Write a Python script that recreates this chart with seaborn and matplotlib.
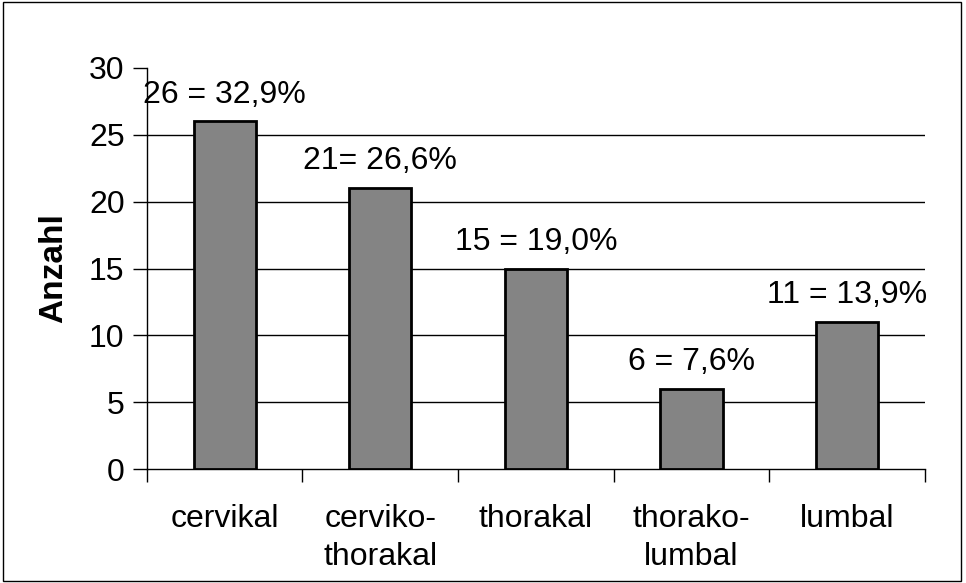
import matplotlib
matplotlib.use("Agg")
import matplotlib.pyplot as plt
import matplotlib.patches as mpatches
import seaborn as sns
import pandas as pd

categories = ["cervikal", "cerviko-\nthorakal", "thorakal", "thorako-\nlumbal", "lumbal"]
counts = [26, 21, 15, 6, 11]
labels = ["26 = 32,9%", "21= 26,6%", "15 = 19,0%", "6 = 7,6%", "11 = 13,9%"]
yticks = [0, 5, 10, 15, 20, 25, 30]

sns.set_theme(style="white")
plt.rcParams['font.family'] = ['Liberation Sans', 'DejaVu Sans']

df = pd.DataFrame({"Kategorie": categories, "Anzahl": counts})

fig = plt.figure(figsize=(9.66, 5.83), dpi=100)
ax = fig.add_axes([0.152, 0.1955, 0.8056, 0.6879])

sns.barplot(data=df, x="Kategorie", y="Anzahl", ax=ax, color="#848484",
            saturation=1, width=0.4, edgecolor="black", linewidth=2, zorder=3)

ax.set_xlim(-0.5, len(categories) - 0.5)
ax.set_ylim(0, 30)
ax.set_yticks(yticks)
ax.set_yticklabels([str(t) for t in yticks], fontsize=23, color="black")
ax.set_xticks(range(len(categories)))
ax.set_xticklabels(categories, fontsize=23, color="black", linespacing=1.38)
ax.set_xticks([i - 0.5 for i in range(len(categories) + 1)], minor=True)
ax.tick_params(axis="x", which="major", length=0, pad=25)
ax.tick_params(axis="x", which="minor", length=9, width=1, color="black", direction="out", bottom=True)
ax.tick_params(axis="y", which="major", length=10, width=1, color="black", direction="out", left=True, pad=6)

ax.set_xlabel("")
ax.set_ylabel("Anzahl", fontsize=24, fontweight="bold", color="black", labelpad=14)

ax.yaxis.grid(True, color="black", linewidth=1)
ax.set_axisbelow(True)
gl = ax.get_ygridlines()
gl[0].set_visible(False)
gl[-1].set_visible(False)

for s in ["top", "right"]:
    ax.spines[s].set_visible(False)
for s in ["left", "bottom"]:
    ax.spines[s].set_color("black")
    ax.spines[s].set_linewidth(1)

for i, (v, lab) in enumerate(zip(counts, labels)):
    ax.annotate(lab, xy=(i, v), xytext=(0, 8.5), textcoords="offset points",
                ha="center", va="bottom", fontsize=23, color="black")

fig.patches.append(mpatches.Rectangle((0.003, 0.004), 0.992, 0.992, transform=fig.transFigure,
                                      fill=False, edgecolor="black", linewidth=1))

fig.savefig("out.png", dpi=100)
